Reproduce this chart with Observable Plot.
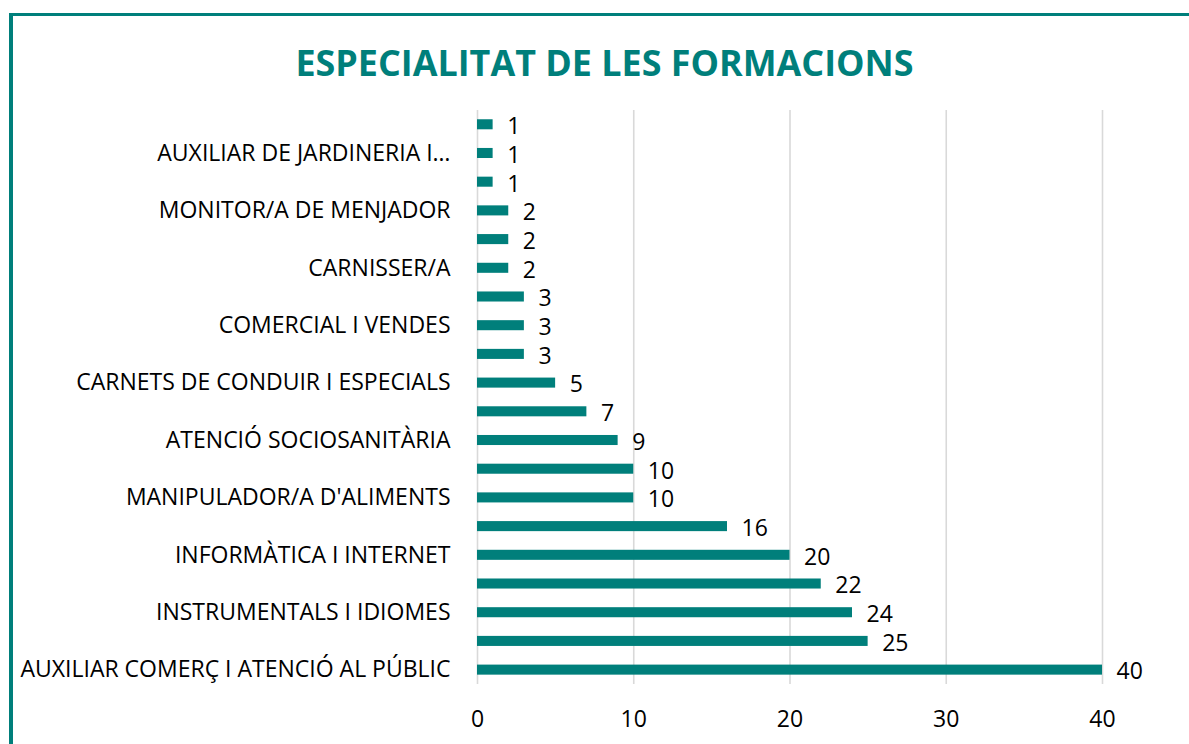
<!DOCTYPE html>
<html>
<head>
<meta charset="utf-8">
<script src="https://cdn.jsdelivr.net/npm/d3@7"></script>
<script src="https://cdn.jsdelivr.net/npm/@observablehq/plot@0.6"></script>
<style>
  html, body { margin: 0; padding: 0; background: #fff; }
  #wrap { position: relative; width: 1189px; height: 744px; overflow: hidden; font-family: "Open Sans", Lato, sans-serif; }
  #frame { position: absolute; left: 9px; top: 13px; width: 1300px; height: 800px; border-left: 4px solid #007F7B; border-top: 3px solid #007F7B; box-sizing: border-box; }
  #title { position: absolute; left: 0; width: 1209px; top: 45px; text-align: center; margin: 0; font-size: 35.9px; font-weight: 700; color: #007F7B; line-height: 1; }
  #chart { position: absolute; left: 0; top: 0; }
</style>
</head>
<body>
<div id="wrap">
  <div id="frame"></div>
  <div id="chart"></div>
  <h1 id="title">ESPECIALITAT DE LES FORMACIONS</h1>
</div>
<script>
const categories = [
  "", "AUXILIAR DE JARDINERIA I…", "", "MONITOR/A DE MENJADOR", "",
  "CARNISSER/A", "", "COMERCIAL I VENDES", "", "CARNETS DE CONDUIR I ESPECIALS",
  "", "ATENCIÓ SOCIOSANITÀRIA", "", "MANIPULADOR/A D'ALIMENTS", "",
  "INFORMÀTICA I INTERNET", "", "INSTRUMENTALS I IDIOMES", "", "AUXILIAR COMERÇ I ATENCIÓ AL PÚBLIC"
];
const values = [1, 1, 1, 2, 2, 2, 3, 3, 3, 5, 7, 9, 10, 10, 16, 20, 22, 24, 25, 40];
const xTicks = [0, 10, 20, 30, 40];

const data = values.map((v, i) => ({ i, label: categories[i], value: v }));
const teal = "#007F7B";

const chart = Plot.plot({
  width: 1189,
  height: 744,
  marginLeft: 477,
  marginRight: 87,
  marginTop: 110,
  marginBottom: 60,
  style: { fontFamily: "'Open Sans', Lato, sans-serif", fontSize: "23px", color: "#000", background: "transparent" },
  x: { domain: [0, 40], label: null },
  y: { type: "band", domain: d3.range(values.length), padding: 0.65, range: [100.6, 693.3], round: false, label: null },
  marks: [
    Plot.gridX(xTicks, { stroke: "#d9d9d9", strokeOpacity: 1, strokeWidth: 1.6 }),
    Plot.barX(data, { x: "value", y: "i", fill: teal }),
    Plot.text(data, { x: "value", y: "i", text: d => String(d.value), textAnchor: "start", dx: 14, dy: 2, fill: "#000", fontSize: 23 }),
    Plot.axisY({ tickSize: 0, tickPadding: 27, tickFormat: i => categories[i], fontSize: 23, fill: "#000" }),
    Plot.axisX({ ticks: xTicks, tickSize: 0, tickPadding: 26, fontSize: 23, fill: "#000" })
  ]
});
document.getElementById("chart").appendChild(chart);
</script>
</body>
</html>
